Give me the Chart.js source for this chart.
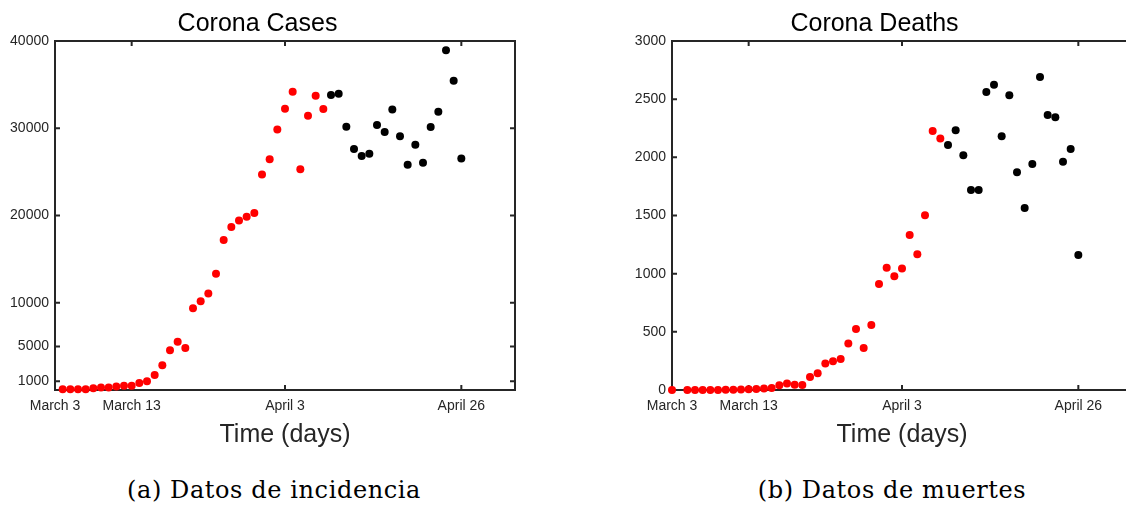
<!DOCTYPE html>
<html>
<head>
<meta charset="utf-8">
<script src="https://cdn.jsdelivr.net/npm/chart.js@4"></script>
<style>
  html, body { margin: 0; padding: 0; background: #fff; }
  body { width: 1126px; height: 505px; overflow: hidden; position: relative; }
  canvas { position: absolute; top: 0; }
  #cases { left: 0; }
  #deaths { left: 617px; }
  .caption {
    position: absolute; top: 476px; width: 400px; text-align: center;
    font-family: "DejaVu Serif", serif; font-size: 24px; letter-spacing: 0.6px;
    color: #000; white-space: nowrap;
  }
</style>
</head>
<body>
<canvas id="cases" width="570" height="450"></canvas>
<canvas id="deaths" width="570" height="450"></canvas>
<div class="caption" style="left:74px">(a) Datos de incidencia</div>
<div class="caption" style="left:692px">(b) Datos de muertes</div>

<script>
// x axis ticks (day index counted from March 3)
const tickDays = [0, 10, 30, 53];
const tickLabels = ['March 3', 'March 13', 'April 3', 'April 26'];

// daily cases
const casesRedDays = [1, 2, 3, 4, 5, 6, 7, 8, 9, 10, 11, 12, 13, 14, 15, 16, 17, 18,
  19, 20, 21, 22, 23, 24, 25, 26, 27, 28, 29, 30, 31, 32, 33, 34, 35];
const casesRed = [90, 90, 100, 100, 200, 300, 300, 400, 500, 500, 800, 1000, 1730, 2830,
  4550, 5540, 4810, 9380, 10180, 11060, 13310, 17190, 18680, 19440, 19860, 20280,
  24690, 26450, 29870, 32230, 34180, 25300, 31430, 33720, 32200];
const casesBlackDays = [36, 37, 38, 39, 40, 41, 42, 43, 44, 45, 46, 47, 48, 49, 50, 51, 52, 53];
const casesBlack = [33800, 33940, 30170, 27620, 26820, 27090, 30370, 29570, 32160,
  29080, 25830, 28120, 26060, 30140, 31890, 38930, 35430, 26520];
const casesTicks = [1000, 5000, 10000, 20000, 30000, 40000];

// daily deaths
const deathsRedDays = [0, 2, 3, 4, 5, 6, 7, 8, 9, 10, 11, 12, 13, 14, 15, 16, 17, 18,
  19, 20, 21, 22, 23, 24, 25, 26, 27, 28, 29, 30, 31, 32, 33, 34, 35];
const deathsRed = [0, 0, 0, 0, 0, 0, 2, 2, 5, 6, 8, 12, 18, 40, 55, 46, 42, 112, 143,
  227, 247, 267, 399, 525, 361, 559, 912, 1050, 977, 1045, 1333, 1167, 1502, 2227, 2161];
const deathsBlackDays = [36, 37, 38, 39, 40, 41, 42, 43, 44, 45, 46, 47, 48, 49, 50, 51, 52, 53];
const deathsBlack = [2106, 2232, 2017, 1719, 1719, 2562, 2625, 2181, 2533, 1871, 1565,
  1943, 2691, 2364, 2344, 1963, 2072, 1161];
const deathsTicks = [0, 500, 1000, 1500, 2000, 2500, 3000];

const AXIS = '#262626';
const FONT = '"Liberation Sans", Arial, sans-serif';

// box round the plot with inward ticks on all four sides (MATLAB style)
const frame = {
  id: 'frame',
  beforeDatasetsDraw(chart) {
    const ctx = chart.ctx;
    const { left, right, top, bottom } = chart.chartArea;
    const len = 5;
    ctx.save();
    ctx.strokeStyle = AXIS;
    ctx.lineWidth = 2;
    ctx.strokeRect(left, top, right - left, bottom - top);
    ctx.beginPath();
    chart.scales.x.ticks.forEach(t => {
      const px = chart.scales.x.getPixelForValue(t.value);
      ctx.moveTo(px, bottom); ctx.lineTo(px, bottom - len);
      ctx.moveTo(px, top); ctx.lineTo(px, top + len);
    });
    chart.scales.y.ticks.forEach(t => {
      const py = chart.scales.y.getPixelForValue(t.value);
      ctx.moveTo(left, py); ctx.lineTo(left + len, py);
      ctx.moveTo(right, py); ctx.lineTo(right - len, py);
    });
    ctx.stroke();
    ctx.restore();
  }
};

function toPoints(days, values) {
  return days.map((d, i) => ({ x: d, y: values[i] }));
}

function makeChart(id, title, redDays, red, blackDays, black, yMax, yTicks) {
  const dot = { pointRadius: 4, pointBorderWidth: 0, showLine: false, clip: false };
  return new Chart(document.getElementById(id), {
    type: 'scatter',
    data: {
      datasets: [
        { data: toPoints(redDays, red), backgroundColor: '#ff0000', ...dot },
        { data: toPoints(blackDays, black), backgroundColor: '#000000', ...dot }
      ]
    },
    plugins: [frame],
    options: {
      responsive: false,
      animation: false,
      devicePixelRatio: 1,
      layout: { padding: { right: 55 } },
      plugins: {
        legend: { display: false },
        tooltip: { enabled: false },
        title: {
          display: true,
          text: title,
          color: '#000',
          font: { family: FONT, size: 25, weight: 'normal' },
          padding: { top: 9, bottom: 2 }
        }
      },
      scales: {
        x: {
          type: 'linear',
          min: 0,
          max: 60,
          grid: { display: false, drawTicks: false },
          border: { display: false },
          afterBuildTicks: s => { s.ticks = tickDays.map(v => ({ value: v })); },
          afterFit: s => { s.height = 60; },
          ticks: {
            autoSkip: false,
            maxRotation: 0,
            padding: 8,
            color: AXIS,
            font: { family: FONT, size: 14 },
            callback: (v, i) => tickLabels[i]
          },
          title: {
            display: true,
            text: 'Time (days)',
            color: AXIS,
            font: { family: FONT, size: 25 },
            padding: { top: 0, bottom: 0 }
          }
        },
        y: {
          min: 0,
          max: yMax,
          grid: { display: false, drawTicks: false },
          border: { display: false },
          afterBuildTicks: s => { s.ticks = yTicks.map(v => ({ value: v })); },
          afterFit: s => { s.width = 55; },
          ticks: {
            padding: 6,
            color: AXIS,
            font: { family: FONT, size: 14 },
            callback: v => String(v)
          }
        }
      }
    }
  });
}

makeChart('cases', 'Corona Cases', casesRedDays, casesRed, casesBlackDays, casesBlack, 40000, casesTicks);
makeChart('deaths', 'Corona Deaths', deathsRedDays, deathsRed, deathsBlackDays, deathsBlack, 3000, deathsTicks);
</script>
</body>
</html>
